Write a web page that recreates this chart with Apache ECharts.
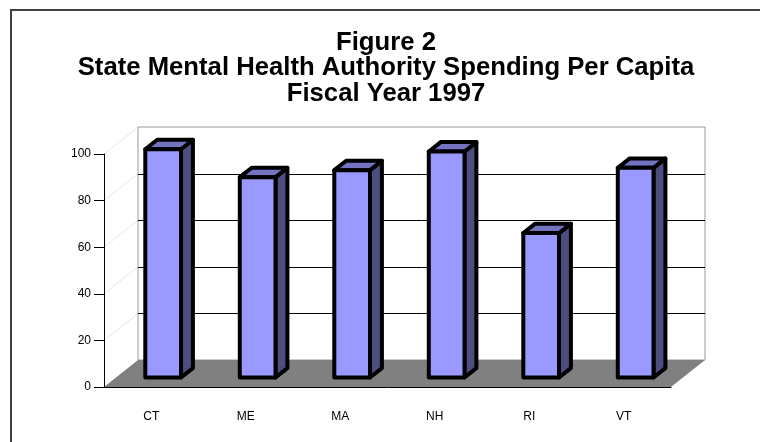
<!DOCTYPE html>
<html>
<head>
<meta charset="utf-8">
<script src="https://cdn.jsdelivr.net/npm/echarts@6/dist/echarts.min.js"></script>
<style>
  html, body { margin: 0; padding: 0; background: #fff; }
  #dom { width: 760px; height: 442px; }
</style>
</head>
<body>
<div id="dom"></div>
<script>
// data
var states = ['CT', 'ME', 'MA', 'NH', 'RI', 'VT'];
var spending = [98, 86, 89, 97, 62, 90];
var yTicks = [0, 20, 40, 60, 80, 100];

// depth of the 3d box (pixels) and where bars sit inside it
var DX = 34, DY = -27;
var F_FRONT = 0.35, F_BACK = 0.70;
var BAR_W = 0.378;

var myChart = echarts.init(document.getElementById('dom'));

function renderWalls(params, api) {
  var cs = params.coordSys;
  var x0 = cs.x, x1 = cs.x + cs.width;
  var yb = api.coord([0, 0])[1];
  var yt = api.coord([0, yTicks[yTicks.length - 1]])[1];
  var kids = [];
  // left side wall gridlines (faint)
  yTicks.forEach(function (v) {
    if (v === 0) return;
    var y = api.coord([0, v])[1];
    kids.push({
      type: 'line',
      shape: { x1: x0, y1: y, x2: x0 + DX, y2: y + DY },
      style: { stroke: '#e6e6e6', lineWidth: 1 }
    });
  });
  // back wall
  kids.push({
    type: 'rect',
    shape: { x: x0 + DX, y: yt + DY, width: cs.width, height: yb - yt },
    style: { fill: '#fff', stroke: '#999', lineWidth: 1 }
  });
  yTicks.forEach(function (v) {
    if (v === 0 || v === 100) return;
    var y = Math.round(api.coord([0, v])[1] + DY) + 0.5;
    kids.push({
      type: 'line',
      shape: { x1: x0 + DX, y1: y, x2: x1 + DX, y2: y },
      style: { stroke: '#000', lineWidth: 1 }
    });
  });
  // floor
  kids.push({
    type: 'polygon',
    shape: { points: [[x0, yb], [x1, yb], [x1 + DX, yb + DY], [x0 + DX, yb + DY]] },
    style: { fill: '#808080' }
  });
  return { type: 'group', children: kids };
}

function renderBar(params, api) {
  var base = api.coord([api.value(0), 0]);
  var top = api.coord([api.value(0), api.value(1)]);
  var w = api.size([1, 0])[0] * BAR_W;
  var fx = DX * F_FRONT, fy = DY * F_FRONT;
  var dx = DX * (F_BACK - F_FRONT), dy = DY * (F_BACK - F_FRONT);
  var l = base[0] - w / 2 + fx, r = l + w;
  var b = base[1] + fy, t = top[1] + fy;
  var border = { stroke: '#000', lineWidth: 4, lineJoin: 'round' };
  return {
    type: 'group',
    children: [
      {
        type: 'polygon',
        shape: { points: [[r, b], [r + dx, b + dy], [r + dx, t + dy], [r, t]] },
        style: Object.assign({ fill: '#4d4d80' }, border)
      },
      {
        type: 'polygon',
        shape: { points: [[l, t], [r, t], [r + dx, t + dy], [l + dx, t + dy]] },
        style: Object.assign({ fill: '#7373c0' }, border)
      },
      {
        type: 'rect',
        shape: { x: l, y: t, width: w, height: b - t },
        style: Object.assign({ fill: '#9999ff' }, border)
      }
    ]
  };
}

var option = {
  animation: false,
  title: {
    text: 'Figure 2\nState Mental Health Authority Spending Per Capita\nFiscal Year 1997',
    left: 381,
    top: 25,
    textAlign: 'center',
    textStyle: {
      fontFamily: 'Liberation Sans, Arial, sans-serif',
      fontSize: 25.7,
      fontWeight: 'bold',
      color: '#000',
      lineHeight: 25.5
    }
  },
  graphic: [{
    type: 'rect',
    shape: { x: 11, y: 10, width: 760, height: 440 },
    style: { fill: 'none', stroke: '#404040', lineWidth: 2 }
  }],
  grid: { left: 104, right: 89, top: 154, bottom: 55 },
  xAxis: {
    type: 'category',
    data: states,
    z: 10,
    axisLine: { lineStyle: { color: '#000', width: 1 } },
    axisTick: { length: 10, lineStyle: { color: '#000' } },
    axisLabel: {
      margin: 24,
      fontSize: 12,
      color: '#000',
      fontFamily: 'Liberation Sans, Arial, sans-serif'
    }
  },
  yAxis: {
    type: 'value',
    min: 0,
    max: 100,
    interval: 20,
    z: 10,
    axisLine: { show: true, lineStyle: { color: '#000', width: 1 } },
    axisTick: { show: true, length: 10, lineStyle: { color: '#000' } },
    splitLine: { show: false },
    axisLabel: {
      margin: 13,
      fontSize: 12,
      color: '#000',
      fontFamily: 'Liberation Sans, Arial, sans-serif'
    }
  },
  series: [{
    type: 'custom',
    z: 1,
    silent: true,
    renderItem: renderWalls,
    data: [[0, 0]]
  }, {
    type: 'custom',
    z: 3,
    renderItem: renderBar,
    encode: { x: 0, y: 1 },
    data: spending.map(function (v, i) { return [i, v]; })
  }]
};
myChart.setOption(option);
</script>
</body>
</html>
